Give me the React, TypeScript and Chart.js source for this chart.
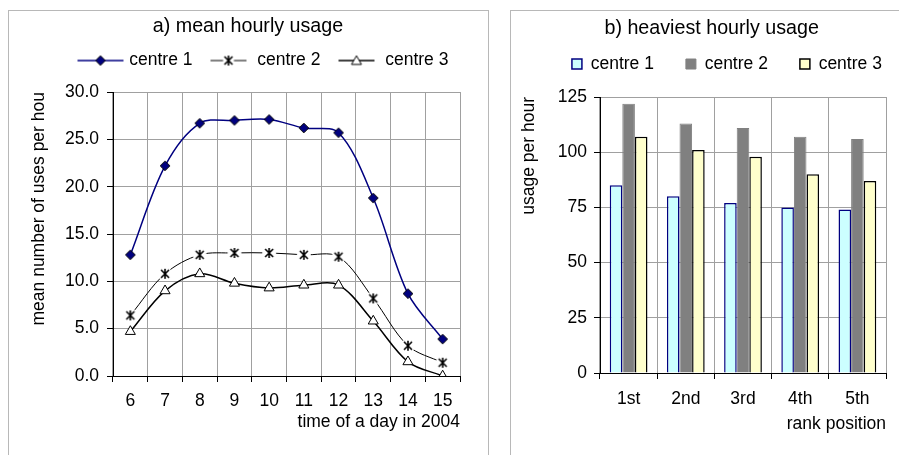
import React, { useEffect, useRef } from 'react';
import { Chart, registerables } from 'chart.js';

Chart.register(...registerables);

// ---------- data ----------
const hours = ['6', '7', '8', '9', '10', '11', '12', '13', '14', '15'];
const meanCentre1 = [12.8, 22.2, 26.7, 27.0, 27.1, 26.2, 25.7, 18.8, 8.7, 3.9];
const meanCentre2 = [6.4, 10.8, 12.8, 13.0, 13.0, 12.8, 12.6, 8.2, 3.2, 1.4];
const meanCentre3 = [4.7, 9.0, 10.8, 9.8, 9.3, 9.6, 9.6, 5.8, 1.5, 0.0];

const ranks = ['1st', '2nd', '3rd', '4th', '5th'];
const heavyCentre1 = [85, 80, 77, 75, 74];
const heavyCentre2 = [122, 113, 111, 107, 106];
const heavyCentre3 = [107, 101, 98, 90, 87];

const seriesNames = ['centre 1', 'centre 2', 'centre 3'];
const lineTitle = 'a) mean hourly usage';
const lineXTitle = 'time of a day in 2004';
const lineYTitle = 'mean number of uses per hou';
const barTitle = 'b) heaviest hourly usage';
const barXTitle = 'rank position';
const barYTitle = 'usage per hour';

// ---------- style ----------
const FONT = "'Liberation Sans', Arial, sans-serif";
const NAVY = '#000080';
const GRID = '#a0a0a0';
const TXT = '#000000';
const FS = 17.5;
const TS = 19.7;
const f = (size: number) => ({ family: FONT, size, weight: 'normal' as const });

function makeCanvas(w: number, h: number, draw: (ctx: CanvasRenderingContext2D) => void) {
  const c = document.createElement('canvas');
  c.width = w;
  c.height = h;
  const ctx = c.getContext('2d')!;
  draw(ctx);
  return c;
}

function drawDiamond(ctx: CanvasRenderingContext2D, x: number, y: number, r: number) {
  ctx.beginPath();
  ctx.moveTo(x, y - r);
  ctx.lineTo(x + r, y);
  ctx.lineTo(x, y + r);
  ctx.lineTo(x - r, y);
  ctx.closePath();
  ctx.fillStyle = NAVY;
  ctx.fill();
  ctx.strokeStyle = '#000';
  ctx.lineWidth = 1;
  ctx.stroke();
}

function drawStar(ctx: CanvasRenderingContext2D, x: number, y: number, bg: number) {
  if (bg > 0) {
    ctx.beginPath();
    ctx.arc(x, y, bg, 0, Math.PI * 2);
    ctx.fillStyle = '#fff';
    ctx.fill();
  }
  ctx.strokeStyle = '#000';
  ctx.lineWidth = 1.6;
  ctx.beginPath();
  ctx.moveTo(x - 4, y - 4);
  ctx.lineTo(x + 4, y + 4);
  ctx.moveTo(x + 4, y - 4);
  ctx.lineTo(x - 4, y + 4);
  ctx.moveTo(x, y - 5);
  ctx.lineTo(x, y + 5);
  ctx.stroke();
}

function drawTriangle(ctx: CanvasRenderingContext2D, x: number, y: number, r: number) {
  ctx.beginPath();
  ctx.moveTo(x, y - r);
  ctx.lineTo(x + r * 0.866, y + r / 2);
  ctx.lineTo(x - r * 0.866, y + r / 2);
  ctx.closePath();
  ctx.fillStyle = '#fff';
  ctx.fill();
  ctx.strokeStyle = '#000';
  ctx.lineWidth = 1;
  ctx.stroke();
}

function hLine(ctx: CanvasRenderingContext2D, x0: number, x1: number, y: number, color: string, w: number) {
  ctx.beginPath();
  ctx.moveTo(x0, y);
  ctx.lineTo(x1, y);
  ctx.strokeStyle = color;
  ctx.lineWidth = w;
  ctx.stroke();
}

// plugin that nudges the title / legend blocks and fixes legend height
function makeAdjust(o: { titleDx: number; legendDx: number; legendDy: number; legendHeight: number }) {
  return {
    id: 'boxAdjust',
    beforeLayout(chart: any) {
      const lg = chart.legend;
      if (lg && !lg.__patched) {
        lg.__patched = true;
        const fit = lg.fit;
        lg.fit = function () {
          fit.call(this);
          this.height = o.legendHeight;
        };
        const draw = lg.draw;
        lg.draw = function (...args: any[]) {
          const ctx = chart.ctx;
          ctx.save();
          ctx.translate(o.legendDx, o.legendDy);
          draw.apply(this, args);
          ctx.restore();
        };
      }
      const tb = chart.titleBlock;
      if (tb && !tb.__patched) {
        tb.__patched = true;
        const draw = tb.draw;
        tb.draw = function (...args: any[]) {
          const ctx = chart.ctx;
          ctx.save();
          ctx.translate(o.titleDx, 0);
          draw.apply(this, args);
          ctx.restore();
        };
      }
    },
  };
}

export default function App() {
  const lineRef = useRef<HTMLCanvasElement | null>(null);
  const barRef = useRef<HTMLCanvasElement | null>(null);

  useEffect(() => {
    Chart.defaults.font.family = FONT;
    Chart.defaults.color = TXT;

    const diamondImg = makeCanvas(12, 12, (ctx) => drawDiamond(ctx, 6, 6, 4.8));
    const starImg = makeCanvas(18, 18, (ctx) => drawStar(ctx, 9, 9, 7));

    const legendImgs = [
      makeCanvas(48, 12, (ctx) => {
        hLine(ctx, 1, 47, 6, NAVY, 1.5);
        drawDiamond(ctx, 24, 6, 4.8);
      }),
      makeCanvas(40, 14, (ctx) => {
        hLine(ctx, 2, 38, 7, '#000', 1);
        drawStar(ctx, 20, 7, 5.5);
      }),
      makeCanvas(40, 14, (ctx) => {
        hLine(ctx, 2, 38, 7, '#000', 1.5);
        drawTriangle(ctx, 20, 8, 5.8);
      }),
    ];

    const lineChart = new Chart(lineRef.current!, {
      type: 'line',
      data: {
        labels: hours,
        datasets: [
          {
            label: seriesNames[0],
            data: meanCentre1,
            borderColor: NAVY,
            borderWidth: 1.5,
            tension: 0.33,
            pointStyle: diamondImg as any,
            pointRadius: 5,
            fill: false,
          },
          {
            label: seriesNames[1],
            data: meanCentre2,
            borderColor: '#000',
            borderWidth: 1,
            tension: 0.33,
            pointStyle: starImg as any,
            pointRadius: 5,
            fill: false,
          },
          {
            label: seriesNames[2],
            data: meanCentre3,
            borderColor: '#000',
            borderWidth: 1.5,
            tension: 0.33,
            pointStyle: 'triangle',
            pointRadius: 5.8,
            pointBackgroundColor: '#fff',
            pointBorderColor: '#000',
            pointBorderWidth: 1,
            fill: false,
          },
        ],
      },
      options: {
        animation: false,
        responsive: false,
        devicePixelRatio: 1,
        layout: { padding: { left: 0, right: 28, top: 0, bottom: 22.1 } },
        plugins: {
          title: {
            display: true,
            text: lineTitle,
            color: TXT,
            font: f(TS),
            padding: { top: 3.8, bottom: 0 },
          },
          legend: {
            display: true,
            position: 'top',
            labels: {
              usePointStyle: true,
              pointStyleWidth: 40,
              padding: 16,
              color: TXT,
              font: f(FS),
              generateLabels: (chart: any) =>
                (Chart.defaults.plugins.legend.labels as any)
                  .generateLabels(chart)
                  .map((l: any, i: number) => ({ ...l, pointStyle: legendImgs[i] })),
            },
          },
          tooltip: { enabled: false },
        },
        scales: {
          x: {
            type: 'category',
            offset: true,
            grid: { offset: true, color: GRID, tickColor: '#000', tickLength: 6 },
            border: { color: '#000' },
            ticks: { color: TXT, font: f(FS), padding: 8.2, maxRotation: 0, autoSkip: false },
            title: {
              display: true,
              text: lineXTitle,
              align: 'end',
              color: TXT,
              font: f(FS),
              padding: { top: 0, bottom: 0 },
            },
            afterFit: (s: any) => {
              s.height = 56.9;
            },
          },
          y: {
            min: 0,
            max: 30,
            ticks: {
              stepSize: 5,
              color: TXT,
              font: f(FS),
              padding: 8,
              callback: (v: any) => Number(v).toFixed(1),
            },
            grid: { color: GRID, tickColor: '#000', tickLength: 6 },
            border: { color: '#000' },
            title: {
              display: true,
              text: lineYTitle,
              align: 'end',
              color: TXT,
              font: f(FS),
              padding: { top: 20, bottom: 0 },
            },
            afterFit: (s: any) => {
              s.width = 104;
            },
          },
        },
      } as any,
      plugins: [makeAdjust({ titleDx: 13.5, legendDx: 29.95, legendDy: -2.67, legendHeight: 53.58 })],
    });

    const barChart = new Chart(barRef.current!, {
      type: 'bar',
      data: {
        labels: ranks,
        datasets: [
          {
            label: seriesNames[0],
            data: heavyCentre1,
            backgroundColor: '#ccffff',
            borderColor: NAVY,
            borderWidth: 1.5,
          },
          {
            label: seriesNames[1],
            data: heavyCentre2,
            backgroundColor: '#808080',
            borderColor: '#808080',
            borderWidth: 1,
          },
          {
            label: seriesNames[2],
            data: heavyCentre3,
            backgroundColor: '#ffffcc',
            borderColor: '#000',
            borderWidth: 1.5,
          },
        ],
      },
      options: {
        animation: false,
        responsive: false,
        devicePixelRatio: 1,
        categoryPercentage: 0.66,
        barPercentage: 1,
        layout: { padding: { left: 0, right: 13, top: 0, bottom: 20.8 } },
        plugins: {
          title: {
            display: true,
            text: barTitle,
            color: TXT,
            font: f(TS),
            padding: { top: 5.5, bottom: 0 },
          },
          legend: {
            display: true,
            position: 'top',
            labels: {
              boxWidth: 10,
              boxHeight: 10,
              padding: 32,
              color: TXT,
              font: f(FS),
            },
          },
          tooltip: { enabled: false },
        },
        scales: {
          x: {
            grid: { offset: true, color: GRID, tickColor: '#000', tickLength: 6 },
            border: { color: '#000' },
            ticks: { color: TXT, font: f(FS), padding: 9.5, maxRotation: 0 },
            title: {
              display: true,
              text: barXTitle,
              align: 'end',
              color: TXT,
              font: f(FS),
              padding: { top: 0, bottom: 0 },
            },
            afterFit: (s: any) => {
              s.height = 61.2;
            },
          },
          y: {
            min: 0,
            max: 125,
            ticks: { stepSize: 25, color: TXT, font: f(FS), padding: 7 },
            grid: { color: GRID, tickColor: '#000', tickLength: 6 },
            border: { color: '#000' },
            title: {
              display: true,
              text: barYTitle,
              align: 'end',
              color: TXT,
              font: f(FS),
              padding: { top: 7.5, bottom: 0 },
            },
            afterFit: (s: any) => {
              s.width = 89;
            },
          },
        },
      } as any,
      plugins: [makeAdjust({ titleDx: 13.2, legendDx: 28.4, legendDy: -16.87, legendHeight: 56.88 })],
    });

    return () => {
      lineChart.destroy();
      barChart.destroy();
    };
  }, []);

  const panel: React.CSSProperties = {
    position: 'absolute',
    top: 10,
    height: 470,
    border: '1px solid #b8b8b8',
    boxSizing: 'border-box',
    background: '#fff',
  };

  return (
    <div style={{ position: 'fixed', inset: 0, overflow: 'hidden', background: '#fff' }}>
      <div style={{ ...panel, left: 8, width: 481 }}>
        <canvas
          ref={lineRef}
          width={479}
          height={444}
          style={{ position: 'absolute', left: 0, top: 0, width: 479, height: 444, display: 'block' }}
        />
      </div>
      <div style={{ ...panel, left: 510, width: 420 }}>
        <canvas
          ref={barRef}
          width={388}
          height={444}
          style={{ position: 'absolute', left: 0, top: 0, width: 388, height: 444, display: 'block' }}
        />
      </div>
    </div>
  );
}
